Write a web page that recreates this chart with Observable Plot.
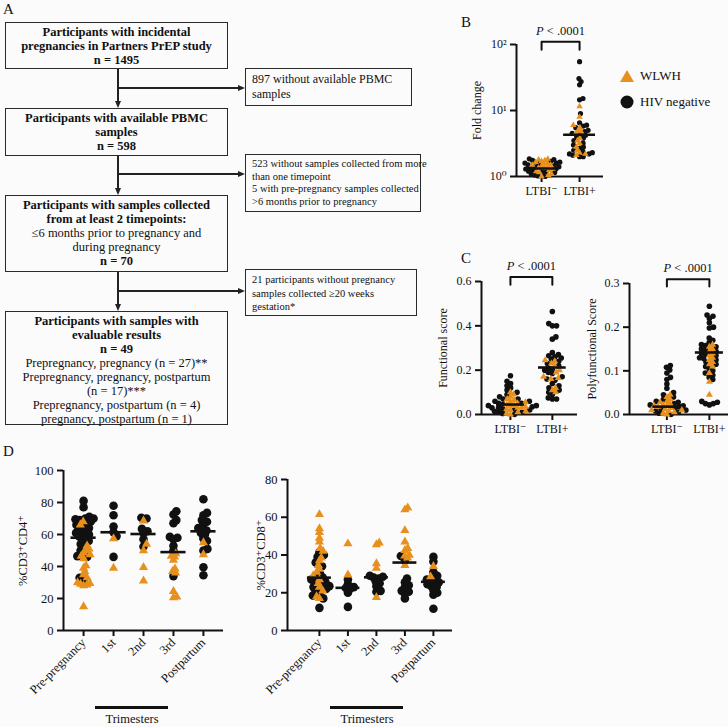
<!DOCTYPE html>
<html><head><meta charset="utf-8">
<script src="https://cdn.jsdelivr.net/npm/d3@7"></script>
<script src="https://cdn.jsdelivr.net/npm/@observablehq/plot@0.6"></script>
<style>
body{margin:0;background:#fbfbfb;}
#fig{position:relative;width:728px;height:727px;font-family:"Liberation Serif","Times New Roman",Tinos,Times,"DejaVu Serif",serif;color:#111;overflow:hidden;background:#fbfbfb}
.abs{position:absolute}
.box{position:absolute;border:1.5px solid #2a2a2a;box-sizing:border-box;background:#fbfbfb}
.main{text-align:center;font-size:12.5px;line-height:14px;padding-top:2px;white-space:nowrap}
.side{font-size:10.5px;line-height:12.5px;padding:3px 6px;white-space:nowrap}
.b{font-weight:bold}
.ln{position:absolute;background:#222}
.ad{position:absolute;width:0;height:0;border-left:3.5px solid transparent;border-right:3.5px solid transparent;border-top:7px solid #222}
.ar{position:absolute;width:0;height:0;border-top:3.5px solid transparent;border-bottom:3.5px solid transparent;border-left:7px solid #222}
.letter{position:absolute;font-size:15px}
.tri{position:absolute;height:3px;background:#111}
.trit{position:absolute;font-size:12.5px;text-align:center;width:100px}
</style></head>
<body><div id="fig"></div>
<script>
// ---------------- DATA ----------------
const ORANGE = "#e8901e";
const SERIES = ["WLWH", "HIV negative"];

// Flowchart text (panel A)
const mainBoxes = [
  [["Participants with incidental",1],["pregnancies in Partners PrEP study",1],["n = 1495",1]],
  [["Participants with available PBMC",1],["samples",1],["n = 598",1]],
  [["Participants with samples collected",1],["from at least 2 timepoints:",1],["≤6 months prior to pregnancy and",0],["during pregnancy",0],["n = 70",1]],
  [["Participants with samples with",1],["evaluable results",1],["n = 49",1],["Prepregnancy, pregnancy (n = 27)**",0],["Prepregnancy, pregnancy, postpartum",0],["(n = 17)***",0],["Prepregnancy, postpartum (n = 4)",0],["pregnancy, postpartum (n = 1)",0]]
];
const sideBoxes = [
  ["897 without available PBMC","samples"],
  ["523 without samples collected from more","than one timepoint","5 with pre-pregnancy samples collected",">6 months prior to pregnancy"],
  ["21 participants without pregnancy","samples collected ≥20 weeks","gestation*"]
];

// Panel B: fold change (log)
const catsB = ["LTBI⁻", "LTBI+"];
const bBlack = [
  [1.85,1.8,1.75,1.7,1.65,1.6,1.55,1.5,1.45,1.4,1.35,1.3,1.28,1.25,1.2,1.18,1.15,1.12,1.1,1.05,1.02,1.0,1.3,1.4,1.6],
  [55,30.5,27.5,24.5,15.2,14.5,9,6.5,6,5.8,5.5,5,4.8,4.5,4.3,4.2,4,3.8,3.5,3.2,3,2.8,2.7,2.5,2.4,2.3,2.2,2.2,2.1,2.0,2.0]
];
const bOrange = [
  [1.85,1.8,1.7,1.65,1.6,1.55,1.5,1.45,1.4,1.35,1.3,1.25,1.2,1.15,1.1,1.05,1.0,1.75,1.5,1.35],
  [11.5,8,6,5.5,5,4.8,4.5,3.8,3.5,3.2,2.8,2.5,2.3,2.2,2.1]
];
const bMedian = [1.32, 4.3];
const bTicks = [1, 10, 100];
const bBracket = {top: 110, leg: 83, text: "P < .0001"};

// Panel C left: functional score
const catsC = ["LTBI⁻", "LTBI+"];
const c1Black = [
  [0.175,0.15,0.14,0.13,0.12,0.11,0.1,0.09,0.08,0.07,0.07,0.06,0.06,0.05,0.05,0.045,0.04,0.04,0.035,0.03,0.03,0.025,0.02,0.02,0.015,0.01,0.01,0.005,0.0],
  [0.465,0.41,0.40,0.40,0.35,0.34,0.28,0.27,0.265,0.26,0.255,0.25,0.24,0.23,0.22,0.21,0.205,0.2,0.19,0.185,0.17,0.16,0.155,0.14,0.13,0.12,0.11,0.1,0.09,0.075,0.07,0.07]
];
const c1Orange = [
  [0.1,0.09,0.08,0.07,0.065,0.06,0.055,0.05,0.045,0.04,0.035,0.03,0.025,0.02,0.015,0.01,0.005,0.0,0.04,0.03],
  [0.245,0.24,0.23,0.22,0.2,0.19,0.17,0.165,0.16,0.12,0.11,0.1]
];
const c1Median = [0.045, 0.212];
const c1Ticks = [0, 0.2, 0.4, 0.6];
const c1Bracket = {top: 0.62, leg: 0.585, text: "P < .0001"};

// Panel C right: polyfunctional score
const c2Black = [
  [0.112,0.108,0.102,0.095,0.085,0.08,0.07,0.06,0.05,0.045,0.04,0.035,0.03,0.028,0.025,0.022,0.02,0.018,0.015,0.012,0.01,0.008,0.005,0.003,0.0],
  [0.248,0.228,0.225,0.22,0.21,0.2,0.198,0.175,0.17,0.165,0.16,0.158,0.155,0.15,0.148,0.145,0.14,0.138,0.135,0.13,0.128,0.125,0.12,0.115,0.11,0.105,0.1,0.095,0.09,0.085,0.08,0.03,0.028,0.025,0.025,0.022]
];
const c2Orange = [
  [0.045,0.04,0.035,0.03,0.028,0.025,0.022,0.02,0.018,0.015,0.012,0.01,0.008,0.005,0.003,0.0,0.02,0.01],
  [0.16,0.155,0.15,0.145,0.14,0.135,0.13,0.125,0.12,0.115,0.11,0.095,0.075,0.045]
];
const c2Median = [0.018, 0.142];
const c2Ticks = [0, 0.1, 0.2, 0.3];
const c2Bracket = {top: 0.31, leg: 0.293, text: "P < .0001"};

// Panel D
const catsD = ["Pre-pregnancy", "1st", "2nd", "3rd", "Postpartum"];
const d1Black = [
  [81,77,71,70,70,69.5,69,68,67,66,65,64,63,62,61,60.5,60,59,58.5,57,56,55,54,52,50,46.5,46,33,32],
  [78,72,65,61.5,59,46],
  [70.5,70,63.5,62,61,57,52.5],
  [74.5,72.5,69,67,58.5,58,57,53,50,34],
  [82,73.5,72,69,68,66.5,64,63.5,62.5,61,60,57.5,56,51,50,39.5,34.5]
];
const d1Orange = [
  [68,66,53,51,50,48.5,47.5,46.5,45,40.5,39,37,35,33,30,29.5,29,28.5,28,15],
  [57.5,39],
  [68.5,54,50,39.5,31],
  [48,46.5,46,44,38.5,37,36,24.5,21,20.5],
  [55,47.5]
];
const d1Median = [58, 61.4, 60.3, 49, 62];
const d1Ticks = [0, 20, 40, 60, 80, 100];

const d2Black = [
  [41.5,40,39,36,34,30,28.5,28,27,26,25.5,24.5,23.5,23,22,21,20,18.5,17,12],
  [27,24.5,23,22.5,22,20,12.5],
  [29,28.5,28,27.5,26,25,23.5,21,20.5],
  [39.5,37,27.5,25.5,24,23,21,20.5,19.5,17],
  [39,36.5,31,29,27.5,27,26,25.5,25,24.5,23.5,23,21.5,20,19,11.5]
];
const d2Orange = [
  [61.5,54,52,49,47,43.5,42,38.5,37,34.5,32.5,31,29,27,25,23,21,18,17],
  [46,29.5],
  [46.5,45.5,35.5,33,17.5],
  [65,64,53,47,43.5,42.5,40,39.5,38.5,34.5],
  [34,28.5]
];
const d2Median = [28, 22.6, 28.2, 36, 25.8];
const d2Ticks = [0, 20, 40, 60, 80];

// ---------------- RENDER ----------------
const FONT = '"Liberation Serif","Times New Roman",Tinos,Times,"DejaVu Serif",serif';
const fig = document.getElementById("fig");
function el(tag, cls, css, html) {
  const e = document.createElement(tag);
  if (cls) e.className = cls;
  Object.assign(e.style, css || {});
  if (html != null) e.innerHTML = html;
  fig.appendChild(e);
  return e;
}
const px = v => v + "px";

// Panel letters
el("div", "letter", {left: "3px", top: "1px"}, "A");
el("div", "letter", {left: "461px", top: "14px"}, "B");
el("div", "letter", {left: "461px", top: "250px"}, "C");
el("div", "letter", {left: "3px", top: "443px"}, "D");

// Flowchart layout
const mainLay = [{top: 22, h: 47}, {top: 108, h: 48}, {top: 195, h: 77}, {top: 311, h: 114}];
const sideLay = [{top: 68, h: 38, w: 167, fs: 12, lh: 15}, {top: 154, h: 58, w: 176, fs: 10.5, lh: 12.5}, {top: 269, h: 47, w: 172, fs: 10.5, lh: 13.5}];
const mainLeft = 5, mainW = 223, sideLeft = 245, cx = 118;
mainBoxes.forEach((lines, i) => {
  const L = mainLay[i];
  el("div", "box main", {left: px(mainLeft), top: px(L.top), width: px(mainW), height: px(L.h)},
    lines.map(([t, b]) => `<div class="${b ? "b" : ""}">${t}</div>`).join(""));
});
sideBoxes.forEach((lines, i) => {
  const L = sideLay[i];
  el("div", "box side", {left: px(sideLeft), top: px(L.top), width: px(L.w), height: px(L.h), fontSize: px(L.fs), lineHeight: px(L.lh)},
    lines.map(t => `<div>${t}</div>`).join(""));
});
const branchY = [88, 174, 291];
for (let i = 0; i < 3; i++) {
  const y0 = mainLay[i].top + mainLay[i].h, y1 = mainLay[i + 1].top;
  el("div", "ln", {left: px(cx - 0.6), top: px(y0), width: "1.3px", height: px(y1 - y0 - 6)});
  el("div", "ad", {left: px(cx - 3.5), top: px(y1 - 7)});
  el("div", "ln", {left: px(cx), top: px(branchY[i] - 0.6), width: px(sideLeft - cx - 6), height: "1.3px"});
  el("div", "ar", {left: px(sideLeft - 7), top: px(branchY[i] - 3.5)});
}

// Legend for B
el("div", "abs", {left: "618px", top: "63px", fontSize: "13px", lineHeight: "26px"},
  `<div style="display:flex;align-items:center"><svg width="18" height="16"><polygon points="9,2 16,14 2,14" fill="${ORANGE}"/></svg><span style="margin-left:4px">${SERIES[0]}</span></div>
   <div style="display:flex;align-items:center"><svg width="18" height="16"><circle cx="9" cy="8" r="6.5" fill="#111"/></svg><span style="margin-left:4px">${SERIES[1]}</span></div>`);

const sup = {"0": "⁰", "1": "¹", "2": "²"};

function swarmPlot(cfg) {
  const {cats, black, orange, medians, yDomain, yType = "linear", yTicks, yFmt, xDomain,
    width, height, ml, mr, mt, mb, rc, rt, medHalf, ylabel, labelOffset, rotate = 0,
    bracket, fontSize = 12, gap = 0.85, left, top} = cfg;
  const innerH = height - mt - mb, innerW = width - ml - mr;
  const ys = (yType === "log" ? d3.scaleLog() : d3.scaleLinear()).domain(yDomain).range([innerH, 0]);
  const pxPerX = innerW / (xDomain[1] - xDomain[0]);
  const pts = [];
  cats.forEach((c, i) => {
    const arr = [];
    orange[i].forEach(v => arr.push({v, s: "o"}));
    black[i].forEach(v => arr.push({v, s: "b"}));
    arr.sort((a, b) => a.v - b.v);
    const placed = [];
    for (const p of arr) {
      const r = p.s === "b" ? rc : rt;
      const py = ys(p.v);
      const cands = [0];
      for (const q of placed) {
        const d = (r + q.r) * gap;
        const dy = Math.abs(q.py - py);
        if (dy < d) { const dx = Math.sqrt(d * d - dy * dy); cands.push(q.px + dx, q.px - dx); }
      }
      cands.sort((a, b) => Math.abs(a) - Math.abs(b));
      let pxv = 0;
      for (const cnd of cands) {
        if (placed.every(q => { const d = (r + q.r) * gap; return (q.px - cnd) ** 2 + (q.py - py) ** 2 >= d * d - 1e-6; })) { pxv = cnd; break; }
      }
      placed.push({px: pxv, py, r});
      pts.push({x: i + pxv / pxPerX, v: p.v, s: p.s});
    }
  });
  const marks = [
    Plot.ruleX([xDomain[0]], {y1: () => yDomain[0], y2: () => yDomain[1], strokeWidth: 2, stroke: "#111"}),
    Plot.ruleY([yDomain[0]], {x1: () => xDomain[0], x2: () => xDomain[1], strokeWidth: 2, stroke: "#111"}),
    Plot.dot(pts.filter(p => p.s === "b"), {x: "x", y: "v", r: rc, fill: "#111"}),
    Plot.dot(pts.filter(p => p.s === "o"), {x: "x", y: "v", r: rt, fill: ORANGE, symbol: "triangle"}),
    Plot.ruleY(medians.map((m, i) => ({i, m})), {x1: d => d.i - medHalf, x2: d => d.i + medHalf, y: "m", strokeWidth: 2.6, stroke: "#111"})
  ];
  if (bracket) {
    const bp = [{x: 0, y: bracket.leg}, {x: 0, y: bracket.top}, {x: 1, y: bracket.top}, {x: 1, y: bracket.leg}];
    marks.push(Plot.line(bp, {x: "x", y: "y", strokeWidth: 2, stroke: "#111"}));
    marks.push(Plot.text([bracket.text], {x: () => 0.5, y: () => bracket.top, dy: -11, text: d => d, fontSize: 12.5}));
  }
  const svg = Plot.plot({
    width, height, marginLeft: ml, marginRight: mr, marginTop: mt, marginBottom: mb,
    style: {fontFamily: FONT, fontSize: fontSize + "px", background: "none", color: "#111", overflow: "visible"},
    x: {domain: xDomain, ticks: d3.range(cats.length), tickFormat: i => cats[i], tickSize: 6, tickPadding: 4, label: null, tickRotate: rotate},
    y: {type: yType, domain: yDomain, ticks: yTicks, tickFormat: yFmt, tickSize: 6, tickPadding: 4, label: ylabel, labelAnchor: "center", labelOffset, labelArrow: false},
    marks
  });
  d3.select(svg).selectAll("g").filter(function () { const a = this.getAttribute("aria-label") || ""; return /axis/.test(a) && !/label/.test(a); })
    .selectAll("line, path").attr("stroke-width", 2).attr("stroke", "#111");
  d3.select(svg).selectAll("text").filter(function () { return bracket && this.textContent === bracket.text; })
    .each(function () {
      const t = d3.select(this); t.text(null);
      t.append("tspan").attr("font-style", "italic").text("P");
      t.append("tspan").text(" < .0001");
    });
  const wrap = el("div", "abs", {left: px(left), top: px(top)});
  wrap.appendChild(svg);
  return svg;
}

// Panel B
swarmPlot({cats: catsB, black: bBlack, orange: bOrange, medians: bMedian, yDomain: [1, 100], yType: "log",
  yTicks: bTicks, yFmt: d => "10" + sup[String(Math.round(Math.log10(d)))], xDomain: [-0.66, 1.63],
  width: 157, height: 192, ml: 60, mr: 10, mt: 30, mb: 30, rc: 2.6, rt: 2.4, medHalf: 0.42,
  ylabel: "Fold change", labelOffset: 44, bracket: bBracket, fontSize: 12, gap: 0.7, left: 456, top: 14});

// Panel C left
swarmPlot({cats: catsC, black: c1Black, orange: c1Orange, medians: c1Median, yDomain: [0, 0.6],
  yTicks: c1Ticks, yFmt: d3.format(".1f"), xDomain: [-0.69, 1.6],
  width: 149, height: 198, ml: 45, mr: 8, mt: 35, mb: 30, rc: 2.8, rt: 2.6, medHalf: 0.33,
  ylabel: "Functional score", labelOffset: 43, bracket: c1Bracket, fontSize: 12, gap: 0.75, left: 436, top: 246});

// Panel C right
swarmPlot({cats: catsC, black: c2Black, orange: c2Orange, medians: c2Median, yDomain: [0, 0.3],
  yTicks: c2Ticks, yFmt: d3.format(".1f"), xDomain: [-0.88, 1.45],
  width: 144, height: 198, ml: 45, mr: 0, mt: 37, mb: 30, rc: 2.8, rt: 2.6, medHalf: 0.33,
  ylabel: "Polyfunctional Score", labelOffset: 42, bracket: c2Bracket, fontSize: 12, gap: 0.75, left: 584, top: 246});

// Panel D left
swarmPlot({cats: catsD, black: d1Black, orange: d1Orange, medians: d1Median, yDomain: [0, 100],
  yTicks: d1Ticks, yFmt: d3.format("d"), xDomain: [-0.67, 4.67],
  width: 233, height: 255, ml: 63, mr: 10, mt: 15, mb: 80, rc: 4.3, rt: 3.4, medHalf: 0.42,
  ylabel: "%CD3⁺CD4⁺", labelOffset: 45, rotate: -45, fontSize: 12.5, gap: 0.5, left: 0, top: 455});

// Panel D right
swarmPlot({cats: catsD, black: d2Black, orange: d2Orange, medians: d2Median, yDomain: [0, 80],
  yTicks: d2Ticks, yFmt: d3.format("d"), xDomain: [-1.12, 4.67],
  width: 227, height: 255, ml: 52, mr: 10, mt: 24, mb: 80, rc: 4.3, rt: 3.4, medHalf: 0.42,
  ylabel: "%CD3⁺CD8⁺", labelOffset: 31, rotate: -45, fontSize: 12.5, gap: 0.5, left: 235, top: 455});

// Trimesters brackets under D
el("div", "tri", {left: "95px", top: "706px", width: "73px"});
el("div", "trit", {left: "82px", top: "712px"}, "Trimesters");
el("div", "tri", {left: "330px", top: "706px", width: "73px"});
el("div", "trit", {left: "317px", top: "712px"}, "Trimesters");
</script>
</body></html>
